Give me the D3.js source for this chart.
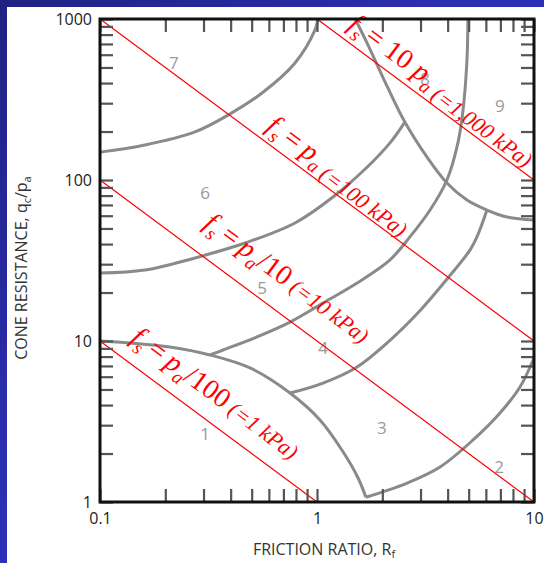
<!DOCTYPE html>
<html>
<head>
<meta charset="utf-8">
<script src="https://cdn.jsdelivr.net/npm/d3@7"></script>
<style>
  body { margin: 0; }
  svg { display: block; }
</style>
</head>
<body>
<div id="chart"></div>
<script>
// zone boundaries, [friction ratio %, qc/pa]
let zone7Top = [[0.1, 149], [0.161, 165], [0.274, 199], [0.389, 253], [0.558, 347], [0.792, 533], [0.979, 855], [1.01, 1000]];
let zone6Top = [[0.1, 26.4], [0.161, 27.6], [0.274, 32.8], [0.466, 40.6], [0.792, 54.1], [1.185, 78.4], [1.70, 120], [2.17, 170], [2.54, 229]];
let zone8Low = [[1.50, 1000], [1.70, 710], [2.01, 436], [2.54, 229], [3.21, 139], [3.97, 95.8], [4.91, 75.1], [6.07, 65.1], [7.51, 58.9], [10, 56.4]];
let zone5Low = [[0.321, 8.19], [0.369, 8.79], [0.529, 10.6], [0.751, 13.1], [1.066, 17.2], [1.53, 22.9], [2.17, 31.9], [2.68, 44.3], [3.32, 65.1], [3.97, 100], [4.46, 170], [4.71, 272], [4.91, 556], [4.96, 1000]];
let zone4Low = [[0.751, 4.75], [1.066, 5.48], [1.53, 6.90], [2.17, 10.1], [2.98, 15.4], [4.01, 24.6], [5.07, 36.7], [5.46, 44.3], [6.07, 65.1]];
let zone1Top = [[0.1, 10], [0.137, 9.72], [0.21, 9.18], [0.321, 8.19], [0.491, 6.80], [0.751, 4.75], [1.032, 3.23], [1.318, 2.05], [1.55, 1.40], [1.68, 1.07]];
let zone2Top = [[1.68, 1.07], [2.60, 1.31], [3.69, 1.65], [5.24, 2.43], [6.97, 3.57], [8.62, 5.18], [10, 7.84]];
let boundaries = [zone7Top, zone6Top, zone8Low, zone5Low, zone4Low, zone1Top, zone2Top];

let zoneNames = ['1', '2', '3', '4', '5', '6', '7', '8', '9'];
let zoneX = [0.305, 6.90, 1.99, 1.066, 0.558, 0.305, 0.219, 3.15, 6.97];
let zoneY = [2.68, 1.65, 2.92, 9.05, 21.6, 84.2, 533, 424, 292];

// lines of constant sleeve friction: qc/pa * Rf = product
let fsProducts = [1, 10, 100, 1000];
let fsStartX = [0.122, 0.255, 0.541, 1.28];
let fsOffset = [18, 24, 10, 11];
let fsMiddle = ['/100', '/10', '', ''];
let fsPrefix = ['', '', '', '10 '];
let fsKpa = [' (=1 kPa)', ' (=10 kPa)', ' (=100 kPa)', ' (=1,000 kPa)'];

let xTicks = [];
let yTicks = [];
[0.1, 1].forEach(function (d) { for (let i = 1; i < 10; i++) xTicks.push(d * i); });
xTicks.push(10);
[1, 10, 100].forEach(function (d) { for (let i = 1; i < 10; i++) yTicks.push(d * i); });
yTicks.push(1000);
let xLabels = { 0.1: '0.1', 1: '1', 10: '10' };
let yLabels = { 1: '1', 10: '10', 100: '100', 1000: '1000' };

let W = 544, H = 563;
let margin = { left: 100, right: 534, top: 19, bottom: 502 };

let x = d3.scaleLog().domain([0.1, 10]).range([margin.left, margin.right]);
let y = d3.scaleLog().domain([1, 1000]).range([margin.bottom, margin.top]);

let svg = d3.select('#chart').append('svg')
    .attr('width', W)
    .attr('height', H);

let grad = svg.append('defs').append('linearGradient')
    .attr('id', 'bg')
    .attr('x1', 0).attr('y1', 0).attr('x2', 1).attr('y2', 1);
grad.append('stop').attr('offset', '0%').attr('stop-color', '#1f2282');
grad.append('stop').attr('offset', '45%').attr('stop-color', '#2d2fb4');
grad.append('stop').attr('offset', '100%').attr('stop-color', '#3636d0');

svg.append('rect').attr('width', W).attr('height', H).attr('fill', 'url(#bg)');
svg.append('rect').attr('x', 7).attr('y', 7).attr('width', W - 7).attr('height', H - 7).attr('fill', '#fff');

let line = d3.line()
    .x(function (d) { return x(d[0]); })
    .y(function (d) { return y(d[1]); })
    .curve(d3.curveCatmullRom.alpha(0.5));

svg.append('g').selectAll('path')
    .data(boundaries)
    .enter().append('path')
    .attr('d', line)
    .attr('fill', 'none')
    .attr('stroke', '#8a8a8a')
    .attr('stroke-width', 3);

svg.append('g').selectAll('text')
    .data(zoneNames)
    .enter().append('text')
    .attr('x', function (d, i) { return x(zoneX[i]); })
    .attr('y', function (d, i) { return y(zoneY[i]); })
    .attr('text-anchor', 'middle')
    .attr('dominant-baseline', 'central')
    .style('font-family', 'Open Sans')
    .style('font-size', '17px')
    .attr('fill', '#9a9a9a')
    .text(function (d) { return d; });

// red friction lines, clipped to the plot box
fsProducts.forEach(function (p, i) {
    let x0 = Math.max(0.1, p / 1000), x1 = Math.min(10, p / 1);
    svg.append('line')
        .attr('x1', x(x0)).attr('y1', y(p / x0))
        .attr('x2', x(x1)).attr('y2', y(p / x1))
        .attr('stroke', '#ff0000')
        .attr('stroke-width', 1.2);

    let ang = Math.atan2(y(p / x1) - y(p / x0), x(x1) - x(x0)) * 180 / Math.PI;
    let t = svg.append('text')
        .attr('transform', 'translate(' + x(fsStartX[i]) + ',' + y(p / fsStartX[i]) + ') rotate(' + ang + ')')
        .attr('y', -fsOffset[i])
        .attr('fill', '#ff0000')
        .style('font-family', 'Liberation Serif')
        .style('font-size', '28px');
    t.append('tspan').style('font-style', 'italic').text('f');
    t.append('tspan').style('font-style', 'italic').style('font-size', '19px').attr('dy', 7).text('s');
    t.append('tspan').attr('dy', -7).text('\u2009=\u2009' + (fsPrefix[i] ? '\u200a' + fsPrefix[i] : ''));
    t.append('tspan').style('font-style', 'italic').text('p');
    t.append('tspan').style('font-style', 'italic').style('font-size', '19px').attr('dy', 7).text('a');
    t.append('tspan').attr('dy', -7).text(fsMiddle[i]);
    t.append('tspan').style('font-style', 'italic').style('font-size', '22px').text(fsKpa[i]);
});

// inward ticks on all four sides
let tickStyle = function (g) {
    g.select('.domain').remove();
    g.selectAll('.tick line').attr('stroke', '#555').attr('stroke-width', 2.2);
    g.selectAll('.tick text')
        .style('font-family', 'Open Sans')
        .style('font-size', '16px')
        .attr('fill', '#222');
};

svg.append('g')
    .attr('transform', 'translate(0,' + margin.bottom + ')')
    .call(d3.axisBottom(x).tickValues(xTicks).tickSize(-13).tickPadding(11)
        .tickFormat(function (d) { return xLabels[d] || ''; }))
    .call(tickStyle);
svg.append('g')
    .attr('transform', 'translate(0,' + margin.top + ')')
    .call(d3.axisTop(x).tickValues(xTicks).tickSize(-13).tickFormat(''))
    .call(tickStyle);
svg.append('g')
    .attr('transform', 'translate(' + margin.left + ',0)')
    .call(d3.axisLeft(y).tickValues(yTicks).tickSize(-13).tickPadding(8)
        .tickFormat(function (d) { return yLabels[d] || ''; }))
    .call(tickStyle);
svg.append('g')
    .attr('transform', 'translate(' + margin.right + ',0)')
    .call(d3.axisRight(y).tickValues(yTicks).tickSize(-13).tickFormat(''))
    .call(tickStyle);

svg.append('rect')
    .attr('x', margin.left).attr('y', margin.top)
    .attr('width', margin.right - margin.left).attr('height', margin.bottom - margin.top)
    .attr('fill', 'none')
    .attr('stroke', '#111')
    .attr('stroke-width', 3);

let xt = svg.append('text')
    .attr('x', 324).attr('y', 555)
    .attr('text-anchor', 'middle')
    .style('font-family', 'Open Sans')
    .style('font-size', '16px')
    .attr('fill', '#333');
xt.append('tspan').text('FRICTION RATIO, R');
xt.append('tspan').style('font-size', '11px').attr('dy', 3).text('f');

let yt = svg.append('text')
    .attr('transform', 'translate(27,268) rotate(-90)')
    .attr('text-anchor', 'middle')
    .style('font-family', 'Open Sans')
    .style('font-size', '16px')
    .attr('fill', '#333');
yt.append('tspan').text('CONE RESISTANCE, q');
yt.append('tspan').style('font-size', '11px').attr('dy', 4).text('c');
yt.append('tspan').attr('dy', -4).text('/p');
yt.append('tspan').style('font-size', '11px').attr('dy', 4).text('a');
</script>
</body>
</html>
